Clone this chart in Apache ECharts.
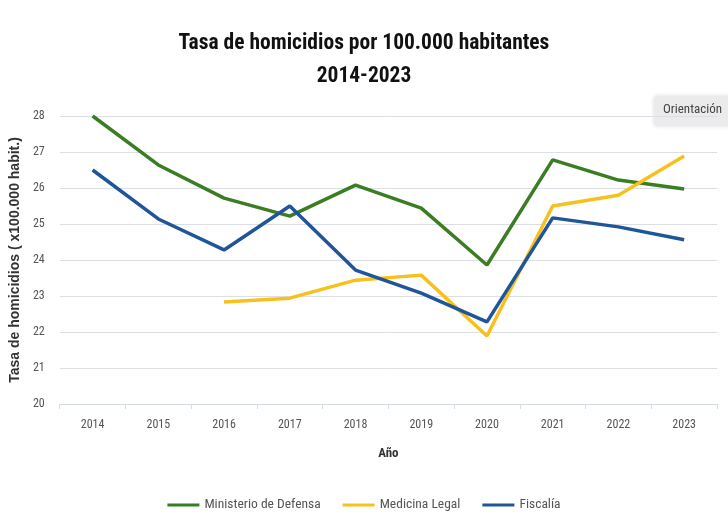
<!DOCTYPE html>
<html><head><meta charset="utf-8">
<script src="https://cdn.jsdelivr.net/npm/echarts@6/dist/echarts.min.js"></script>
<style>html,body{margin:0;padding:0;background:#fff}#c{width:728px;height:526px}</style>
</head><body><div id="c"></div>
<script>
const years = ['2014','2015','2016','2017','2018','2019','2020','2021','2022','2023'];
const ministerio = [28.0, 26.64, 25.72, 25.22, 26.08, 25.44, 23.86, 26.78, 26.22, 25.97];
const medicina = [null, null, 22.83, 22.94, 23.44, 23.58, 21.89, 25.5, 25.8, 26.89];
const fiscalia = [26.5, 25.14, 24.28, 25.5, 23.72, 23.08, 22.28, 25.17, 24.92, 24.56];
const yTicks = [20,21,22,23,24,25,26,27,28];

const chart = echarts.init(document.getElementById('c'));
const font = '"Liberation Sans Narrow", "Roboto Condensed", Arial, sans-serif';
chart.setOption({
  animation:false,
  title:{text:'Tasa de homicidios por 100.000 habitantes\n2014-2023',left:'center',top:22,
    textStyle:{fontFamily:font,fontWeight:'bold',fontSize:21.5,lineHeight:33,color:'#111'}},
  grid:{left:59,right:11,top:116,bottom:122},
  legend:{bottom:9,left:'center',itemGap:22,itemWidth:32,itemHeight:3,
    icon:'rect',textStyle:{fontFamily:font,fontSize:13.5,color:'#555'},
    data:['Ministerio de Defensa','Medicina Legal','Fiscalía']},
  xAxis:{type:'category',data:years,boundaryGap:true,name:'Año',nameLocation:'middle',nameGap:43,
    nameTextStyle:{fontFamily:font,fontWeight:'bold',fontSize:13,color:'#333'},
    axisLine:{lineStyle:{color:'#d6dce6'}},axisTick:{show:true,lineStyle:{color:'#d6dce6'}},
    axisLabel:{fontFamily:font,fontSize:12,color:'#555',margin:15}},
  yAxis:{type:'value',min:yTicks[0],max:yTicks[yTicks.length-1],interval:1,
    name:'Tasa de homicidios ( x100.000 habit.)',nameLocation:'middle',nameGap:29,
    nameTextStyle:{fontFamily:'"Liberation Sans", Arial, sans-serif',fontWeight:'bold',fontSize:14,color:'#333'},
    axisLine:{show:false},axisTick:{show:false},
    axisLabel:{fontFamily:font,fontSize:12,color:'#555',margin:15}},
  series:[
    {name:'Ministerio de Defensa',type:'line',data:ministerio,symbol:'none',lineStyle:{width:3.5,color:'#3b7d23'},itemStyle:{color:'#3b7d23'}},
    {name:'Medicina Legal',type:'line',data:medicina,symbol:'none',lineStyle:{width:3.5,color:'#f7c11d'},itemStyle:{color:'#f7c11d'}},
    {name:'Fiscalía',type:'line',data:fiscalia,symbol:'none',lineStyle:{width:3.5,color:'#215599'},itemStyle:{color:'#215599'}}
  ],
  graphic:[
    {type:'rect',right:-6,top:96,shape:{width:80,height:30,r:3},style:{fill:'#ebebeb',shadowBlur:4,shadowColor:'rgba(0,0,0,0.15)'}},
    {type:'text',left:663,top:103,style:{text:'Orientación',font:'13px '+font,fill:'#444'}}
  ]
});
</script></body></html>
